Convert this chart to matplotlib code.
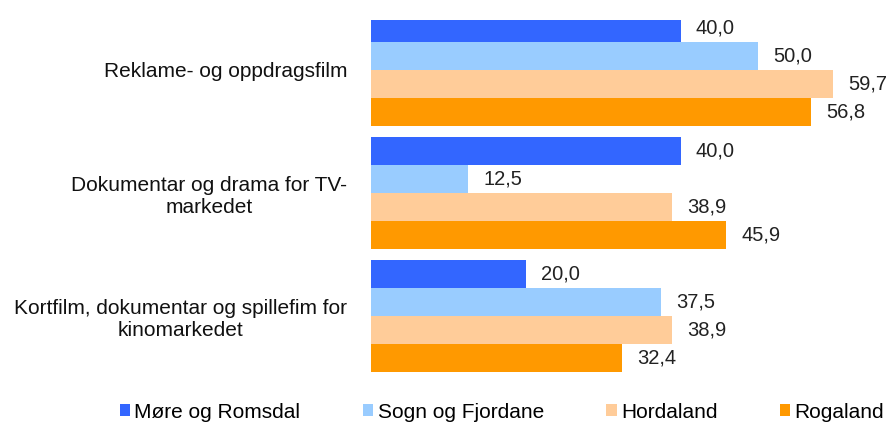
import matplotlib.pyplot as plt
import numpy as np

plt.rcParams['font.family'] = ['Liberation Sans', 'DejaVu Sans']

categories = ['Reklame- og oppdragsfilm',
              'Dokumentar og drama for TV-\nmarkedet',
              'Kortfilm, dokumentar og spillefim for\nkinomarkedet']
series = ['Møre og Romsdal', 'Sogn og Fjordane', 'Hordaland', 'Rogaland']
more = [40.0, 40.0, 20.0]
sogn = [50.0, 12.5, 37.5]
hordaland = [59.7, 38.9, 38.9]
rogaland = [56.8, 45.9, 32.4]
colors = ['#3366FF', '#99CCFF', '#FFCC99', '#FF9900']

fig = plt.figure(figsize=(8.88, 4.24), dpi=100)
ax = fig.add_axes([371 / 888, 1 - 377.5 / 424, 1 - 371 / 888, (377.5 - 20) / 424])

y = np.arange(len(categories))
h = 0.228
offsets = [-1.5 * h, -0.5 * h, 0.5 * h, 1.5 * h]

for vals, name, col, off in zip([more, sogn, hordaland, rogaland], series, colors, offsets):
    bars = ax.barh(y + off, vals, height=h, color=col, label=name)
    for b, v in zip(bars, vals):
        ax.annotate(f'{v:.1f}'.replace('.', ','),
                    (b.get_width(), b.get_y() + b.get_height() / 2),
                    xytext=(11, 0), textcoords='offset points',
                    ha='left', va='center', fontsize=14.5, color='#222222')

ax.set_xlim(0, 66.8)
ax.set_ylim(2.5, -0.4065)
ax.set_yticks(y)
ax.set_yticklabels(categories, fontsize=15, ha='right', multialignment='center',
                   color='#111111')
ax.tick_params(axis='y', length=0, pad=17)
ax.set_xticks([])
for s in ax.spines.values():
    s.set_visible(False)

fig.legend(loc='center', bbox_to_anchor=(502 / 888, 1 - 412 / 424), ncol=4,
           frameon=False, fontsize=15, handlelength=0.5, handleheight=0.5,
           handletextpad=0.2, columnspacing=3.0, borderpad=0)

fig.savefig('out.png', dpi=100)
